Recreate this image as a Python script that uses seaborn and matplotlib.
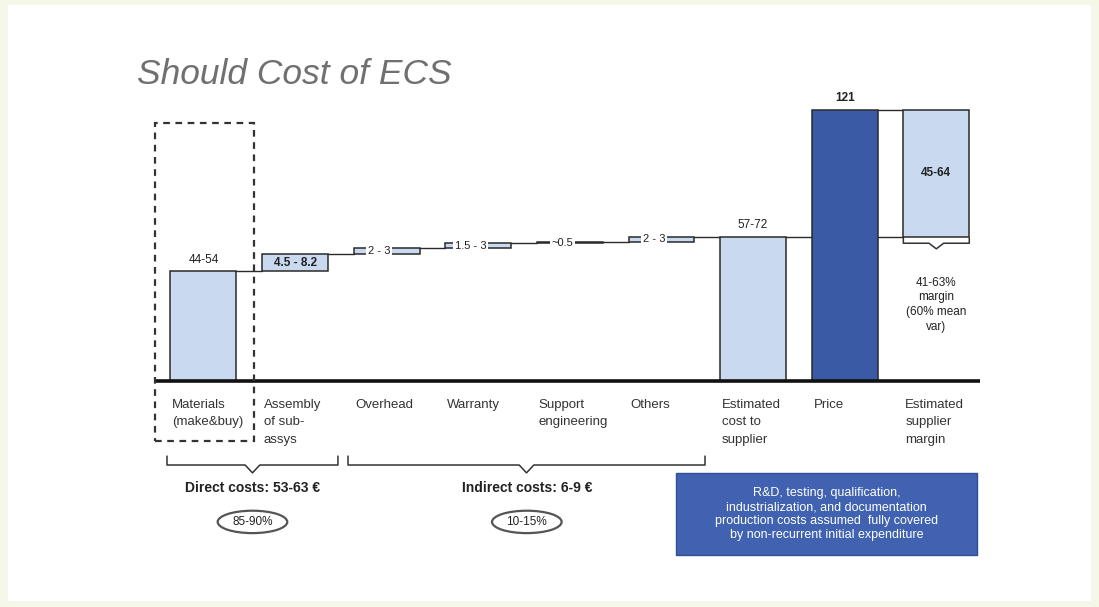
import numpy as np
import pandas as pd
import matplotlib
matplotlib.use("Agg")
import matplotlib.pyplot as plt
from matplotlib.patches import Rectangle, Ellipse
import seaborn as sns

# ---- data -------------------------------------------------------------
categories = ["Materials\n(make&buy)", "Assembly\nof sub-\nassys", "Overhead", "Warranty",
              "Support\nengineering", "Others", "Estimated\ncost to\nsupplier", "Price",
              "Estimated\nsupplier\nmargin"]
kinds = ["total", "step", "step", "step", "step", "step", "total", "total", "gap"]
values = [49.0, 7.75, 2.5, 2.25, 0.5, 2.5, 64.5, 121.0, 56.5]
value_labels = ["44-54", "4.5 - 8.2", "2 - 3", "1.5 - 3", "~0.5", "2 - 3", "57-72", "121", "45-64"]

groups = ["Direct costs: 53-63 €", "Indirect costs: 6-9 €"]
group_shares = ["85-90%", "10-15%"]
margin_note = "41-63%\nmargin\n(60% mean\nvar)"
note_text = ("R&D, testing, qualification,\nindustrialization, and documentation\n"
             "production costs assumed  fully covered\nby non-recurrent initial expenditure")

LIGHT = "#c9daf0"
DARK = "#3a5aa6"
EDGE = "#2a2a2a"

# ---- theme ------------------------------------------------------------
sns.set_theme(style="white")
plt.rcParams["font.family"] = ["Liberation Sans", "DejaVu Sans"]

fig = plt.figure(figsize=(10.99, 6.07), dpi=100, facecolor="#f5f7e8")
fig.patches.append(Rectangle((8 / 1099, 6 / 607), 1083 / 1099, 596 / 607,
                             transform=fig.transFigure, facecolor="white",
                             edgecolor="none", zorder=-5))

ax = fig.add_axes([155 / 1099, 47 / 607, 825 / 1099, 470 / 607])
ax.set_facecolor("none")
ax.set_zorder(2)

# bottoms of each bar: totals sit on the axis, steps float on the running sum
bottoms = []
running = 0.0
for k, v in zip(kinds, values):
    if k == "total":
        bottoms.append(0.0)
        running = v
    elif k == "step":
        bottoms.append(running)
        running += v
    else:
        bottoms.append(values[6])

grounded = [v if k == "total" else 0.0 for k, v in zip(kinds, values)]
colors = [DARK if c == "Price" else LIGHT for c in categories]
df = pd.DataFrame({"category": categories, "height": grounded})

W = 0.72
sns.barplot(data=df, x="category", y="height", hue="category", order=categories,
            palette=colors, saturation=1, width=W, edgecolor=EDGE, linewidth=1.1,
            legend=False, ax=ax, zorder=3)

# floating bars (steps and margin)
for i, (k, v, b) in enumerate(zip(kinds, values, bottoms)):
    if k in ("step", "gap"):
        ax.bar(i, v, bottom=b, width=W, color=LIGHT, edgecolor=EDGE,
               linewidth=1.1, zorder=3)

# connectors between consecutive bars
for i in range(len(values) - 1):
    top = bottoms[i] + values[i]
    if i == 6:
        ax.plot([i + W / 2, i + 2 - W / 2], [top, top], color=EDGE, lw=1.0, zorder=2)
    else:
        ax.plot([i + W / 2, i + 1 - W / 2], [top, top], color=EDGE, lw=1.0, zorder=2)

# value labels
for i, (k, v, b, lab) in enumerate(zip(kinds, values, bottoms, value_labels)):
    if k == "total":
        ax.text(i, v + 2.5, lab, ha="center", va="bottom", fontsize=8.5,
                fontweight="bold" if i == 7 else "normal", color="#222")
    elif k == "gap":
        ax.text(i, b + v / 2, lab, ha="center", va="center", fontsize=8.5,
                fontweight="bold", color="#222", zorder=5)
    elif i == 1:
        ax.text(i, b + v / 2, lab, ha="center", va="center", fontsize=8.5,
                fontweight="bold", color="#222", zorder=5)
    else:
        ax.text(i - 0.08, b + v / 2, lab, ha="center", va="center", fontsize=8,
                color="#222", zorder=5,
                bbox=dict(boxstyle="square,pad=0.15", facecolor="white", edgecolor="none"))

# category labels under the axis
for i, c in enumerate(categories):
    ax.text(i - W / 2 + 0.02, -8.0, c, ha="left", va="top", fontsize=9.5,
            color="#333", linespacing=1.6)

# baseline
xl, xr = -0.529, 8.477
ax.plot([xl, xr], [0, 0], color="#111", lw=2.6, zorder=4, solid_capstyle="butt",
        clip_on=False)

# dashed frame around materials
ax.add_patch(Rectangle((-0.529, -26.8), 1.08, 142.0, fill=False, edgecolor="#333",
                       linestyle=(0, (3, 2.5)), linewidth=1.6, zorder=4, clip_on=False))


def brace(x0, x1, y, h, tip, d=0.08):
    xc = (x0 + x1) / 2
    ax.plot([x0, x0, xc - d, xc, xc + d, x1, x1],
            [y + h, y, y, y - tip, y, y, y + h], color="#333", lw=1.1,
            solid_joinstyle="round")


brace(-0.398, 1.468, -37.5, 4.0, 3.5)
brace(1.578, 5.475, -37.5, 4.0, 3.5)
brace(7.64, 8.36, 61.5, 2.5, 2.5)

centers = [0.535, 3.53]
for xc, g, s in zip(centers, groups, group_shares):
    ax.text(xc, -47.8, g, ha="center", va="center", fontsize=10, fontweight="bold",
            color="#222")
    ax.add_patch(Ellipse((xc, -62.9), 0.76, 10.0, fill=False, edgecolor="#555",
                         linewidth=1.6))
    ax.text(xc, -62.9, s, ha="center", va="center", fontsize=8.5, color="#222")

ax.text(8.0, 34.0, margin_note, ha="center", va="center", fontsize=8.5,
        color="#222", linespacing=1.3)

# note box
ax.add_patch(Rectangle((5.158, -77.7), 3.287, 36.6, facecolor="#4062b0",
                       edgecolor="#2f4f96", linewidth=1.0, zorder=3))
ax.text(6.80, -59.4, note_text, ha="center", va="center", fontsize=9,
        color="white", linespacing=1.2, zorder=4)

ax.set_xlim(xl, xr)
ax.set_ylim(-79.9, 129.9)
ax.set_axis_off()

fig.text(137 / 1099, (607 - 75) / 607, "Should Cost of ECS", ha="left", va="center",
         fontsize=25.5, fontstyle="italic", color="#707070")

fig.savefig("out.png", dpi=100, facecolor=fig.get_facecolor())
